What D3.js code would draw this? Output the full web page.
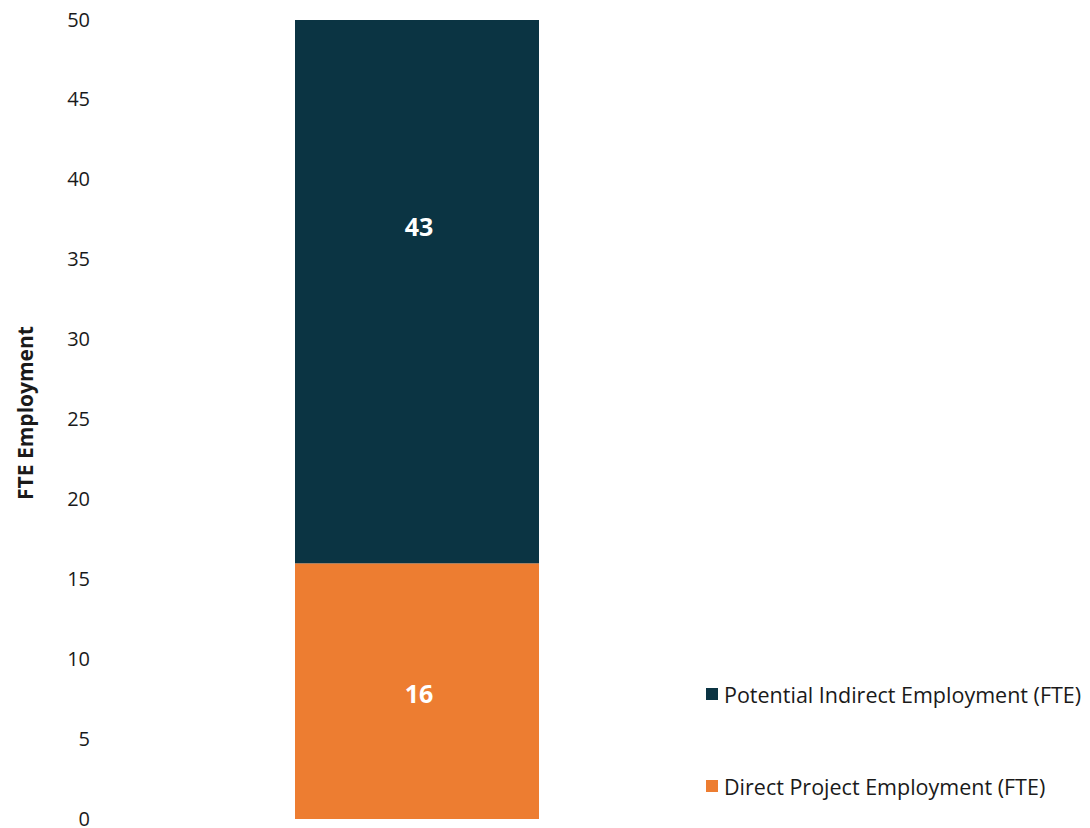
<!DOCTYPE html>
<html>
<head>
<meta charset="utf-8">
<script src="https://cdn.jsdelivr.net/npm/d3@7"></script>
<style>
  body { margin: 0; background: #fff; }
  svg { display: block; }
  text { font-family: "Open Sans", "Noto Sans", sans-serif; }
</style>
</head>
<body>
<svg id="chart" width="1090" height="828"></svg>
<script>
const categories = ["Project"];
const seriesNames = ["Direct Project Employment (FTE)", "Potential Indirect Employment (FTE)"];
const directValues = [16];
const indirectValues = [43];
const seriesColors = ["#ED7D31", "#0B3443"];
const yTicks = [0, 5, 10, 15, 20, 25, 30, 35, 40, 45, 50];
const yTitle = "FTE Employment";

const svg = d3.select("#chart");
const margin = { top: 20, bottom: 9 };
const H = 828;

const y = d3.scaleLinear().domain([0, 50]).range([H - margin.bottom, margin.top]);
const x = d3.scaleBand().domain(categories).range([295, 539]).padding(0);

const table = categories.map((c, i) => ({ cat: c, direct: directValues[i], indirect: indirectValues[i] }));
const stack = d3.stack().keys(["direct", "indirect"])(table);

svg.append("defs").append("clipPath").attr("id", "plotclip")
  .append("rect").attr("x", 0).attr("y", y(50)).attr("width", 1090).attr("height", y(0) - y(50));

const g = svg.append("g").attr("clip-path", "url(#plotclip)");
stack.forEach((layer, li) => {
  g.selectAll(null).data(layer).enter().append("rect")
    .attr("x", d => x(d.data.cat))
    .attr("width", x.bandwidth())
    .attr("y", d => y(d[1]))
    .attr("height", d => y(d[0]) - y(d[1]))
    .attr("fill", seriesColors[li]);
});

// value labels
stack.forEach((layer, li) => {
  svg.selectAll(null).data(layer).enter().append("text")
    .attr("x", d => x(d.data.cat) + x.bandwidth() / 2 + 2)
    .attr("y", d => y((d[0] + d[1]) / 2) + (li === 1 ? 6 : 2))
    .attr("text-anchor", "middle")
    .attr("dominant-baseline", "central")
    .attr("fill", "#fff")
    .attr("font-weight", "bold")
    .attr("font-size", 25)
    .text(d => d[1] - d[0]);
});

// y axis
const yAxis = d3.axisLeft(y).tickValues(yTicks).tickSize(0).tickPadding(0);
const ya = svg.append("g").attr("transform", "translate(90,0)").call(yAxis);
ya.select(".domain").remove();
ya.selectAll("text").attr("font-size", 20).attr("fill", "#1a1a1a")
  .attr("font-family", "'Open Sans', 'Noto Sans', sans-serif")
  .attr("dy", "0.3em");

svg.append("text")
  .attr("transform", `translate(33,${413}) rotate(-90)`)
  .attr("text-anchor", "middle")
  .attr("font-weight", "bold")
  .attr("font-size", 21)
  .attr("fill", "#1a1a1a")
  .text(yTitle);

// legend (top: indirect, bottom: direct)
const legendItems = [
  { name: seriesNames[1], color: seriesColors[1], cy: 694 },
  { name: seriesNames[0], color: seriesColors[0], cy: 786 }
];
const lg = svg.append("g");
legendItems.forEach(it => {
  lg.append("rect").attr("x", 706).attr("y", it.cy - 6).attr("width", 12).attr("height", 12).attr("fill", it.color);
  lg.append("text").attr("x", 724).attr("y", it.cy).attr("dominant-baseline", "central")
    .attr("font-size", 21.5).attr("fill", "#1a1a1a").text(it.name);
});
</script>
</body>
</html>
